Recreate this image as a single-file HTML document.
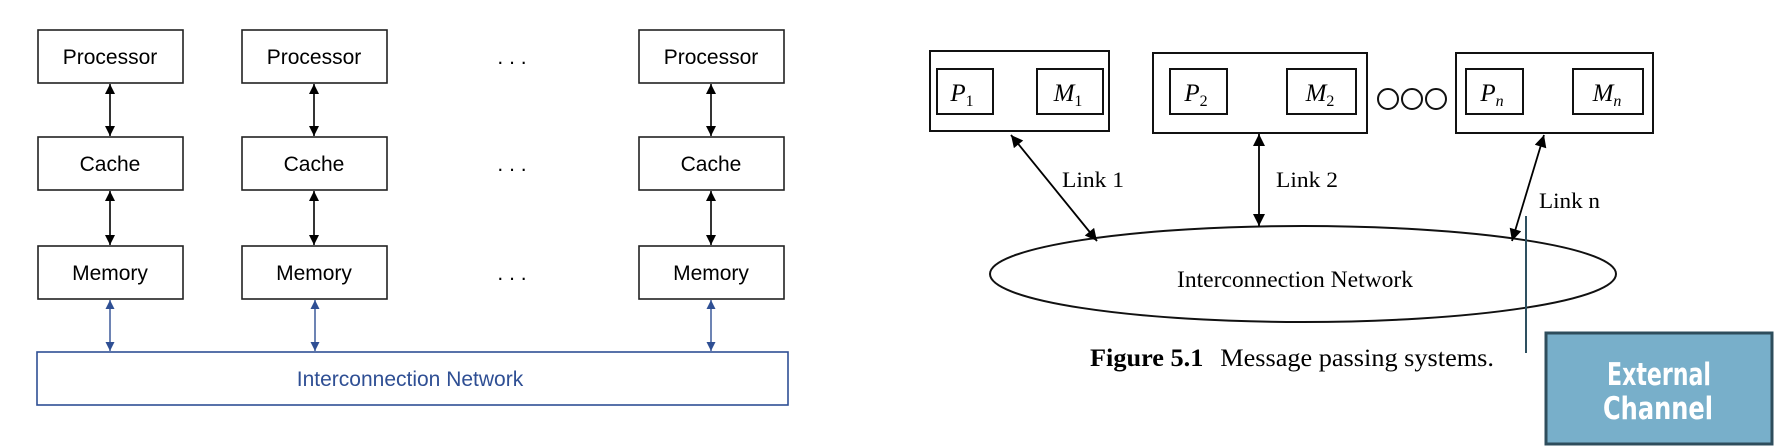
<!DOCTYPE html>
<html><head><meta charset="utf-8"><style>
html,body{margin:0;padding:0;background:#fff;}
svg{display:block;}
</style></head><body>
<svg width="1782" height="448" viewBox="0 0 1782 448" xmlns="http://www.w3.org/2000/svg">
<defs>
<marker id="ab" viewBox="0 0 10 10" refX="10" refY="5" markerWidth="10" markerHeight="10" markerUnits="userSpaceOnUse" orient="auto-start-reverse"><path d="M0,0 L10,5 L0,10 z" fill="#000"/></marker>
<marker id="au" viewBox="0 0 10 10" refX="10" refY="5" markerWidth="10" markerHeight="9" markerUnits="userSpaceOnUse" orient="auto-start-reverse"><path d="M0,0 L10,5 L0,10 z" fill="#2f4f94"/></marker>
<marker id="at" viewBox="0 0 10 10" refX="10" refY="5" markerWidth="16" markerHeight="12" markerUnits="userSpaceOnUse" orient="auto-start-reverse"><path d="M0,0 L10,5 L0,10 z" fill="#000"/></marker>
</defs>
<g font-family="Liberation Sans, sans-serif" font-size="21" text-anchor="middle" fill="#000">
<g stroke="#222" stroke-width="1.6" fill="#fff">
<rect x="38" y="30" width="145" height="53"/><rect x="242" y="30" width="145" height="53"/><rect x="639" y="30" width="145" height="53"/>
<rect x="38" y="137" width="145" height="53"/><rect x="242" y="137" width="145" height="53"/><rect x="639" y="137" width="145" height="53"/>
<rect x="38" y="246" width="145" height="53"/><rect x="242" y="246" width="145" height="53"/><rect x="639" y="246" width="145" height="53"/>
</g>
<text x="110" y="64">Processor</text><text x="314" y="64">Processor</text><text x="711" y="64">Processor</text>
<text x="110" y="171">Cache</text><text x="314" y="171">Cache</text><text x="711" y="171">Cache</text>
<text x="110" y="280">Memory</text><text x="314" y="280">Memory</text><text x="711" y="280">Memory</text>
<text x="512" y="64">. . .</text><text x="512" y="171">. . .</text><text x="512" y="280">. . .</text>
<g stroke="#000" stroke-width="1.6">
<line x1="110" y1="84" x2="110" y2="136" marker-start="url(#ab)" marker-end="url(#ab)"/>
<line x1="314" y1="84" x2="314" y2="136" marker-start="url(#ab)" marker-end="url(#ab)"/>
<line x1="711" y1="84" x2="711" y2="136" marker-start="url(#ab)" marker-end="url(#ab)"/>
<line x1="110" y1="191" x2="110" y2="245" marker-start="url(#ab)" marker-end="url(#ab)"/>
<line x1="314" y1="191" x2="314" y2="245" marker-start="url(#ab)" marker-end="url(#ab)"/>
<line x1="711" y1="191" x2="711" y2="245" marker-start="url(#ab)" marker-end="url(#ab)"/>
</g>
<g stroke="#2f4f94" stroke-width="1.4">
<line x1="110" y1="300" x2="110" y2="351" marker-start="url(#au)" marker-end="url(#au)"/>
<line x1="315" y1="300" x2="315" y2="351" marker-start="url(#au)" marker-end="url(#au)"/>
<line x1="711" y1="300" x2="711" y2="351" marker-start="url(#au)" marker-end="url(#au)"/>
</g>
<rect x="37" y="352" width="751" height="53" fill="#fff" stroke="#2f4f94" stroke-width="1.6"/>
<text x="410" y="386" fill="#2f4f94">Interconnection Network</text>
</g>

<g font-family="Liberation Serif, serif" fill="#000">
<g stroke="#111" stroke-width="2" fill="#fff">
<rect x="930" y="51" width="179" height="80"/>
<rect x="1153" y="53" width="214" height="80"/>
<rect x="1456" y="53" width="197" height="80"/>
<rect x="937" y="69" width="56" height="45"/><rect x="1037" y="69" width="66" height="45"/>
<rect x="1170" y="69" width="57" height="45"/><rect x="1287" y="69" width="69" height="45"/>
<rect x="1466" y="69" width="57" height="45"/><rect x="1573" y="69" width="70" height="45"/>
<circle cx="1388" cy="99" r="10"/><circle cx="1412" cy="99" r="10"/><circle cx="1436" cy="99" r="10"/>
<ellipse cx="1303" cy="274" rx="313" ry="48"/>
</g>
<g font-size="25" font-style="italic" text-anchor="middle">
<text x="962" y="101">P<tspan font-size="16" font-style="normal" dy="5">1</tspan></text>
<text x="1068" y="101">M<tspan font-size="16" font-style="normal" dy="5">1</tspan></text>
<text x="1196" y="101">P<tspan font-size="16" font-style="normal" dy="5">2</tspan></text>
<text x="1320" y="101">M<tspan font-size="16" font-style="normal" dy="5">2</tspan></text>
<text x="1492" y="101">P<tspan font-size="16" dy="5">n</tspan></text>
<text x="1607" y="101">M<tspan font-size="16" dy="5">n</tspan></text>
</g>
<g stroke="#000" stroke-width="1.8">
<line x1="1011" y1="135" x2="1097" y2="241" marker-start="url(#at)" marker-end="url(#at)"/>
<line x1="1259" y1="134" x2="1259" y2="226" marker-start="url(#at)" marker-end="url(#at)"/>
<line x1="1544" y1="135" x2="1512" y2="241" marker-start="url(#at)" marker-end="url(#at)"/>
</g>
<g font-size="22">
<text x="1062" y="187" textLength="62" lengthAdjust="spacingAndGlyphs">Link 1</text>
<text x="1276" y="187" textLength="62" lengthAdjust="spacingAndGlyphs">Link 2</text>
<text x="1539" y="208" textLength="61" lengthAdjust="spacingAndGlyphs">Link n</text>
<text x="1177" y="287" font-size="23" textLength="236" lengthAdjust="spacingAndGlyphs">Interconnection Network</text>
<text x="1090" y="366" font-size="25" textLength="404" lengthAdjust="spacingAndGlyphs"><tspan font-weight="bold">Figure 5.1</tspan><tspan dx="16">Message passing systems.</tspan></text>
</g>
</g>
<line x1="1526" y1="216" x2="1526" y2="353" stroke="#2e5060" stroke-width="2"/>
<rect x="1546" y="333" width="226" height="111" fill="#78afca" stroke="#2e4d5c" stroke-width="3"/>
<g font-family="DejaVu Sans Condensed, Liberation Sans Narrow, sans-serif" font-size="31" font-weight="bold" fill="#fff">
<text x="1607" y="385" textLength="104" lengthAdjust="spacingAndGlyphs">External</text>
<text x="1603" y="419" textLength="110" lengthAdjust="spacingAndGlyphs">Channel</text>
</g>
</svg>
</body></html>
